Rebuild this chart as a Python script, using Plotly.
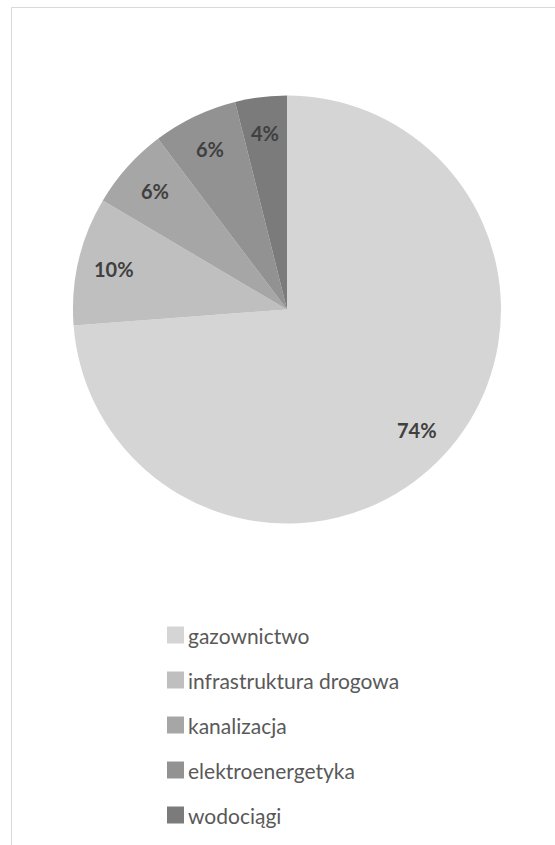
import math
import plotly.graph_objects as go

categories = ["gazownictwo", "infrastruktura drogowa", "kanalizacja", "elektroenergetyka", "wodociągi"]
values = [73.8, 9.7, 6.2, 6.4, 3.9]
colors = ["#d5d5d5", "#bfbfbf", "#a6a6a6", "#929292", "#7b7b7b"]

W, H = 555, 845
# pie geometry in pixels
cx, cy, R = 287, 309.5, 214

def px(x):
    return x / W

def py(y):
    return 1 - y / H

fig = go.Figure()
fig.add_trace(go.Pie(
    labels=categories,
    values=values,
    marker=dict(colors=colors, line=dict(width=0)),
    sort=False,
    direction="clockwise",
    rotation=0,
    textinfo="none",
    hoverinfo="label+percent",
    showlegend=False,
    domain=dict(x=[px(cx - R), px(cx + R)], y=[py(cy + R), py(cy - R)]),
))

annotations = []
shapes = []

# percentage labels placed along slice mid-angles
total = sum(values)
cum = 0
for v in values:
    theta = 2 * math.pi * (cum + v / 2) / total
    r = 0.83 * R
    x = cx + r * math.sin(theta)
    y = cy - r * math.cos(theta)
    annotations.append(dict(
        x=px(x), y=py(y), xref="paper", yref="paper",
        text=f"<b>{round(100 * v / total)}%</b>", showarrow=False,
        font=dict(family="Lato, Open Sans, sans-serif", size=20, color="#404040"),
        xanchor="center", yanchor="middle",
    ))
    cum += v

# custom legend
for i, (name, col) in enumerate(zip(categories, colors)):
    yc = 635 + 45 * i
    shapes.append(dict(
        type="rect", xref="paper", yref="paper",
        x0=px(167), x1=px(184), y0=py(yc + 8.5), y1=py(yc - 8.5),
        fillcolor=col, line=dict(width=0), layer="above",
    ))
    annotations.append(dict(
        x=px(186), y=py(yc), xref="paper", yref="paper",
        text=name, showarrow=False,
        font=dict(family="Lato, Open Sans, sans-serif", size=21, color="#595959"),
        xanchor="left", yanchor="middle",
    ))

# chart area border (extends past right and bottom edge)
shapes.append(dict(
    type="rect", xref="paper", yref="paper",
    x0=px(11.5), x1=1.02, y0=-0.02, y1=py(7.5),
    line=dict(color="#d9d9d9", width=1), fillcolor="rgba(0,0,0,0)", layer="below",
))

fig.update_layout(
    width=W, height=H,
    margin=dict(l=0, r=0, t=0, b=0),
    paper_bgcolor="white",
    plot_bgcolor="white",
    annotations=annotations,
    shapes=shapes,
)

fig.write_html(
    "out.html",
    config={"displayModeBar": False},
    post_script="document.body.style.margin='0';document.body.style.overflow='hidden';",
)
